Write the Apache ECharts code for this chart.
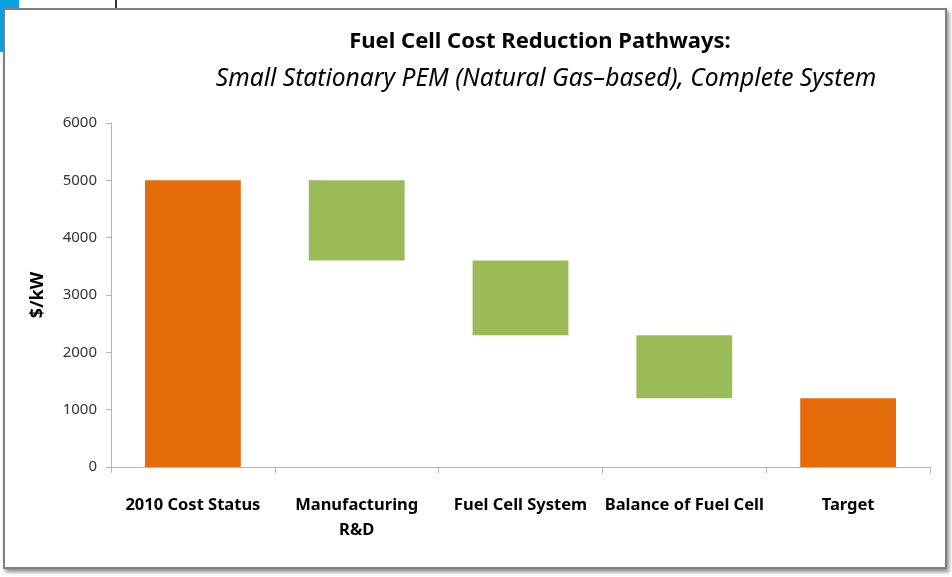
<!DOCTYPE html>
<html>
<head>
<meta charset="utf-8">
<script src="https://cdn.jsdelivr.net/npm/echarts@6/dist/echarts.min.js"></script>
<style>
    html, body { margin: 0; padding: 0; background: #fff; }
    #wrap { position: relative; width: 952px; height: 577px; overflow: hidden; }
    #blue { position: absolute; left: 0; top: 0; width: 19px; height: 52px; background: #0aa2e4; }
    #tick { position: absolute; left: 115px; top: 0; width: 2px; height: 9px; background: #333; }
    #frame { position: absolute; left: 3px; top: 8px; width: 940px; height: 557px;
             border: 2px solid #808080; box-shadow: 2px 3px 4px rgba(0,0,0,0.45); background: #fff; }
    #chart { position: absolute; left: 0; top: 0; width: 952px; height: 577px; }
</style>
</head>
<body>
<div id="wrap">
    <div id="blue"></div>
    <div id="tick"></div>
    <div id="frame"></div>
    <div id="chart"></div>
</div>
<script>
    // waterfall steps, $/kW
    let categories = ['2010 Cost Status', 'Manufacturing\nR&D', 'Fuel Cell System', 'Balance of Fuel Cell', 'Target'];
    let barTop = [5000, 5000, 3600, 2300, 1200];
    let barBottom = [0, 3600, 2300, 1200, 0];
    let barColors = ['#e46c0a', '#9bbb59', '#9bbb59', '#9bbb59', '#e46c0a'];

    let chart = echarts.init(document.getElementById('chart'), null, {renderer: 'canvas'});

    let option = {
        animation: false,
        backgroundColor: 'transparent',
        textStyle: {fontFamily: 'Noto Sans'},
        title: [{
            text: 'Fuel Cell Cost Reduction Pathways:',
            left: 535,
            top: 26,
            textAlign: 'center',
            textStyle: {fontSize: 22, fontWeight: 'bold', color: '#000'}
        }, {
            text: 'Small Stationary PEM (Natural Gas\u2013based), Complete System',
            left: 541,
            top: 61,
            textAlign: 'center',
            textStyle: {fontSize: 24.6, fontStyle: 'italic', fontWeight: 'normal', color: '#000'}
        }],
        grid: {left: 111, right: 22, top: 123, bottom: 110},
        xAxis: {
            type: 'category',
            data: categories,
            axisLine: {lineStyle: {color: '#b3b3b3'}},
            axisTick: {show: true, length: 6, lineStyle: {color: '#b3b3b3'}},
            axisLabel: {
                interval: 0,
                margin: 26,
                fontSize: 16.5,
                fontWeight: 'bold',
                color: '#000',
                lineHeight: 25
            }
        },
        yAxis: {
            type: 'value',
            min: 0,
            max: 6000,
            interval: 1000,
            name: '$/kW',
            nameLocation: 'middle',
            nameGap: 64,
            nameTextStyle: {fontSize: 18, fontWeight: 'bold', color: '#000'},
            axisLine: {show: true, lineStyle: {color: '#b3b3b3'}},
            axisTick: {show: true, length: 5, lineStyle: {color: '#b3b3b3'}},
            splitLine: {show: false},
            axisLabel: {
                fontSize: 15,
                color: '#333',
                margin: 14,
                formatter: function (value) {
                    return String(value);
                }
            }
        },
        series: [{
            type: 'bar',
            stack: 'fall',
            barWidth: '58.5%',
            silent: true,
            itemStyle: {color: 'transparent'},
            data: barBottom
        }, {
            type: 'bar',
            stack: 'fall',
            barWidth: '58.5%',
            data: barTop.map(function (v, i) {
                return {value: v - barBottom[i], itemStyle: {color: barColors[i]}};
            })
        }]
    };

    chart.setOption(option);
    window.onresize = () => {
        chart.resize();
    };
</script>
</body>
</html>
